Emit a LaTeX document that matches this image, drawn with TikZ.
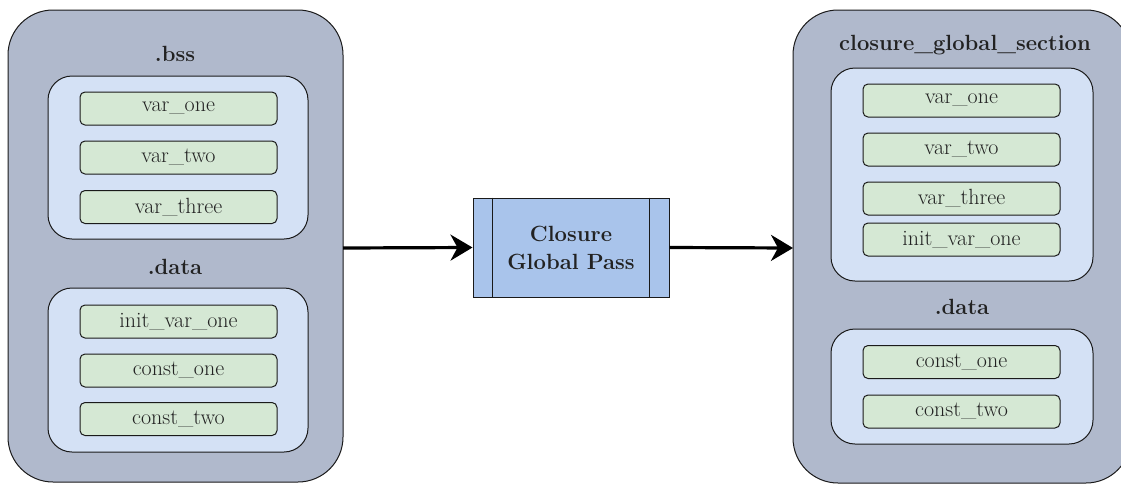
\documentclass[tikz,border=0pt]{standalone}
\usepackage{fontspec}
\usetikzlibrary{arrows.meta}
\definecolor{outerfill}{HTML}{B0B9CC}
\definecolor{innerfill}{HTML}{D4E1F5}
\definecolor{itemfill}{HTML}{D5E8D4}
\definecolor{passfill}{HTML}{A9C4EB}
\definecolor{linecol}{HTML}{1A1A1A}
\definecolor{textcol}{HTML}{222222}
\tikzset{
  section/.style={draw=linecol, fill=outerfill, line width=1pt, rounded corners=45pt},
  group/.style={draw=linecol, fill=innerfill, line width=1pt, rounded corners=24pt},
  item/.style={draw=linecol, fill=itemfill, line width=1pt, rounded corners=5pt,
    minimum width=197pt, minimum height=33pt, inner sep=0pt,
    font=\fontsize{22}{24}\selectfont, text=textcol},
  title/.style={font=\bfseries\fontsize{22}{26}\selectfont, text=textcol, inner sep=0pt},
  flow/.style={line width=3.2pt, -{Stealth[length=22pt,width=26pt,inset=7pt]}},
}
\begin{document}
\begin{tikzpicture}[x=1pt,y=-1pt]
\useasboundingbox (0,0) rectangle (1121,485);
\clip (0,0) rectangle (1121,485);

% left: original sections
\draw[section] (8,10) rectangle (343,482);
\coordinate (lsec) at (343,248);
\node[title] (lbss) at (175,54) {.bss};
\draw[group] (48,76) rectangle (308,239);
\node[item] (l1) at (178.5,108.5) {var\_one};
\node[item] (l2) at (178.5,157.5) {var\_two};
\node[item] (l3) at (178.5,207) {var\_three};
\node[title] (ldata) at (175,267) {.data};
\draw[group] (48,288) rectangle (308,452);
\node[item] (l4) at (178.5,321.5) {init\_var\_one};
\node[item] (l5) at (178.5,370.5) {const\_one};
\node[item] (l6) at (178.5,419) {const\_two};

% middle: the pass
\node[draw=linecol, fill=passfill, line width=1pt, minimum width=196pt, minimum height=99pt,
      inner sep=0pt, align=center, font=\bfseries\fontsize{22}{28}\selectfont, text=textcol]
      (pass) at (571,247.5) {Closure\\Global Pass};
\draw[linecol, line width=1pt] ([xshift=20pt]pass.north west) -- ([xshift=20pt]pass.south west);
\draw[linecol, line width=1pt] ([xshift=-20pt]pass.north east) -- ([xshift=-20pt]pass.south east);

% right: merged sections
\draw[section] (793,10) rectangle (1131,483);
\coordinate (rsec) at (793,248);
\node[title] (rcg) at (965,45) {closure\_global\_section};
\draw[group] (831,68) rectangle (1093,281);
\node[item] (r1) at (961.5,100.5) {var\_one};
\node[item] (r2) at (961.5,149.5) {var\_two};
\node[item] (r3) at (961.5,198.5) {var\_three};
\node[item] (r4) at (961.5,239.5) {init\_var\_one};
\node[title] (rdata) at (962,307) {.data};
\draw[group] (831,329) rectangle (1093,444);
\node[item] (r5) at (961.5,362) {const\_one};
\node[item] (r6) at (961.5,411.5) {const\_two};

% connectors
\draw[flow] (lsec) -- (pass.west);
\draw[flow] (pass.east) -- (rsec);
\end{tikzpicture}
\end{document}
